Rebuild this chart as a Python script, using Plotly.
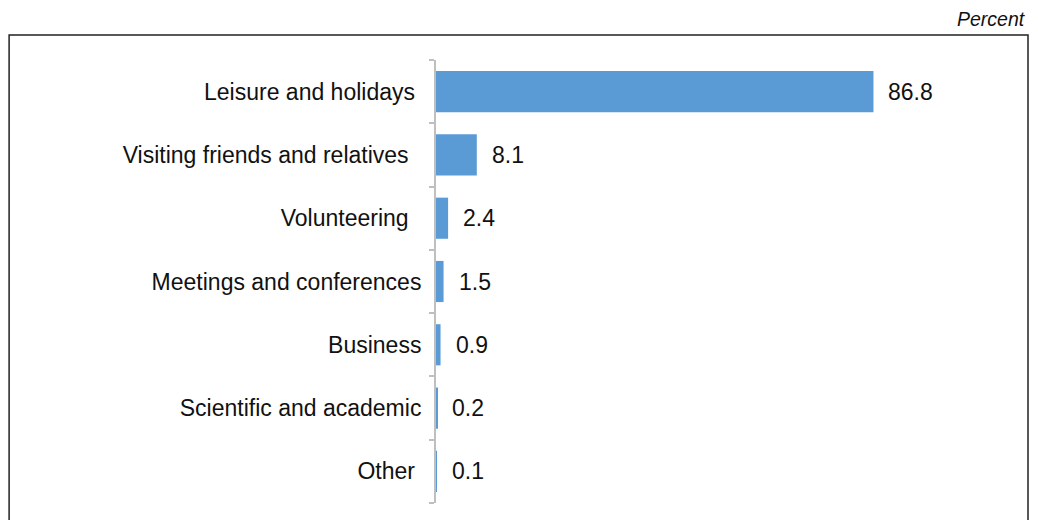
import plotly.graph_objects as go

categories = ["Leisure and holidays", "Visiting friends and relatives", "Volunteering",
              "Meetings and conferences", "Business", "Scientific and academic", "Other"]
values = [86.8, 8.1, 2.4, 1.5, 0.9, 0.2, 0.1]
# some source labels carry trailing spaces, so they do not line up on the right
label_pad = [1, 2, 2, 0, 0, 0, 1]

fig = go.Figure()

fig.add_trace(go.Bar(
    x=values,
    y=categories,
    orientation="h",
    marker=dict(color="#5B9BD5", line=dict(width=0)),
    hoverinfo="x+y",
))

# value labels a bit to the right of each bar
for c, v in zip(categories, values):
    fig.add_annotation(x=v, y=c, text=f"{v:.1f}", showarrow=False,
                       xanchor="left", xshift=13,
                       font=dict(size=23, color="#111111"))

# frame around the chart and the unit note
fig.add_shape(type="rect", xref="paper", yref="paper",
              x0=-0.847, x1=1.1746, y0=-0.2, y1=1.0564,
              line=dict(color="#222222", width=1.5))
fig.add_annotation(text="<i>Percent</i>", xref="paper", yref="paper",
                   x=1.1746, y=1.0564, xanchor="right", yanchor="bottom",
                   yshift=3, showarrow=False,
                   font=dict(size=19.5, color="#111111"))

fig.update_layout(
    width=1022,
    height=512,
    margin=dict(l=428, r=90, t=52, b=17),
    plot_bgcolor="white",
    paper_bgcolor="white",
    font=dict(family="Liberation Sans, Arial, sans-serif", size=23, color="#111111"),
    bargap=0.35,
    showlegend=False,
    xaxis=dict(range=[0, 100], visible=False, fixedrange=True),
    yaxis=dict(
        autorange="reversed",
        showline=True,
        linecolor="#BFBFBF",
        linewidth=2,
        ticks="outside",
        tickson="boundaries",
        ticklen=5,
        tickcolor="#BFBFBF",
        tickwidth=1.5,
        tickmode="array",
        tickvals=categories,
        ticktext=[c + "\u00a0" * p for c, p in zip(categories, label_pad)],
        ticklabelstandoff=8,
        showgrid=False,
        zeroline=False,
        tickfont=dict(size=23, color="#111111"),
    ),
)

fig.write_html("out.html")
